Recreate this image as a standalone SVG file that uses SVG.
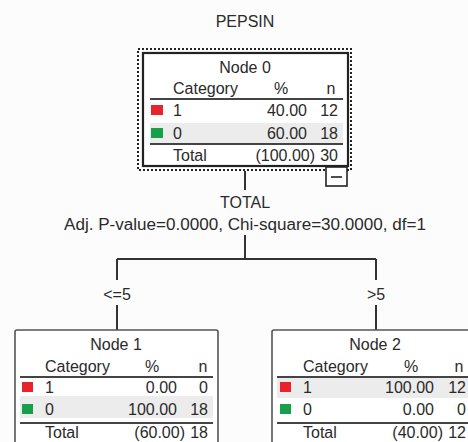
<svg xmlns="http://www.w3.org/2000/svg" width="468" height="442" viewBox="0 0 468 442">
<style>
text{font-family:"Liberation Sans",Arial,sans-serif;font-size:16px;fill:#2a2a2a}
.m{text-anchor:middle}
.r{text-anchor:end}
.box{fill:#fff;stroke:#555;stroke-width:1.6}
.rule{stroke:#444;stroke-width:2}
.shade{fill:#ececec}
.red{fill:#e8232b}
.green{fill:#17a04a}
.conn{stroke:#333;stroke-width:2;fill:none}
</style>
<rect width="468" height="442" fill="#fcfcfc"/>
<text class="m" x="245" y="27" font-size="15">PEPSIN</text>

<g id="connectors">
<path class="conn" d="M245 171V190M245 235V259M117 259H376M117 259V280M376 259V280M117 305V330M376 305V330"/>
<text class="m" x="245" y="208">TOTAL</text>
<text class="m" x="245" y="230" textLength="362" lengthAdjust="spacingAndGlyphs">Adj. P-value=0.0000, Chi-square=30.0000, df=1</text>
<text class="m" x="117" y="300">&lt;=5</text>
<text class="m" x="376" y="300">&gt;5</text>
</g>

<g id="node0">
<rect x="138" y="49" width="213" height="121" fill="none" stroke="#222" stroke-width="2" stroke-dasharray="2,2"/>
<rect x="143" y="53" width="205" height="113" fill="#fff" stroke="#222" stroke-width="2.2"/>
<rect class="shade" x="150" y="123" width="193" height="20"/>
<line class="rule" x1="150" y1="99" x2="343" y2="99"/>
<line class="rule" x1="150" y1="144" x2="343" y2="144"/>
<text class="m" x="245" y="73">Node 0</text>
<text x="173" y="94">Category</text>
<text class="m" x="281" y="94">%</text>
<text class="m" x="331" y="94">n</text>
<rect class="red" x="151" y="105" width="12" height="10"/>
<text x="173" y="116">1</text>
<text class="r" x="307" y="116">40.00</text>
<text class="r" x="338" y="116">12</text>
<rect class="green" x="151" y="128" width="12" height="10"/>
<text x="173" y="139">0</text>
<text class="r" x="307" y="139">60.00</text>
<text class="r" x="338" y="139">18</text>
<text x="173" y="161">Total</text>
<text class="r" x="315" y="161">(100.00)</text>
<text class="r" x="338" y="161">30</text>
<rect x="326" y="167" width="21" height="19" fill="#fff" stroke="#222" stroke-width="1.6"/>
<line x1="331" y1="177" x2="342" y2="177" stroke="#222" stroke-width="1.6"/>
</g>

<g id="node1">
<rect class="box" x="15" y="330" width="203" height="130" rx="2"/>
<rect class="shade" x="20" y="396" width="193" height="22"/>
<line class="rule" x1="20" y1="377" x2="213" y2="377"/>
<line class="rule" x1="20" y1="423" x2="213" y2="423"/>
<text class="m" x="116" y="350">Node 1</text>
<text x="45" y="372">Category</text>
<text class="m" x="152" y="372">%</text>
<text class="m" x="203" y="372">n</text>
<rect class="red" x="22" y="382" width="11" height="10"/>
<text x="45" y="393">1</text>
<text class="r" x="177" y="393">0.00</text>
<text class="r" x="208" y="393">0</text>
<rect class="green" x="22" y="404" width="11" height="10"/>
<text x="45" y="415">0</text>
<text class="r" x="177" y="415">100.00</text>
<text class="r" x="208" y="415">18</text>
<text x="45" y="438">Total</text>
<text class="r" x="185" y="438">(60.00)</text>
<text class="r" x="208" y="438">18</text>
</g>

<g id="node2">
<rect class="box" x="272" y="330" width="203" height="130" rx="2"/>
<rect class="shade" x="277" y="378" width="193" height="20"/>
<line class="rule" x1="277" y1="377" x2="470" y2="377"/>
<line class="rule" x1="277" y1="423" x2="470" y2="423"/>
<text class="m" x="375" y="350">Node 2</text>
<text x="303" y="372">Category</text>
<text class="m" x="411" y="372">%</text>
<text class="m" x="459" y="372">n</text>
<rect class="red" x="280" y="382" width="11" height="10"/>
<text x="303" y="393">1</text>
<text class="r" x="434" y="393">100.00</text>
<text class="r" x="466" y="393">12</text>
<rect class="green" x="280" y="404" width="11" height="10"/>
<text x="303" y="415">0</text>
<text class="r" x="434" y="415">0.00</text>
<text class="r" x="466" y="415">0</text>
<text x="303" y="438">Total</text>
<text class="r" x="443" y="438">(40.00)</text>
<text class="r" x="466" y="438">12</text>
</g>
</svg>
